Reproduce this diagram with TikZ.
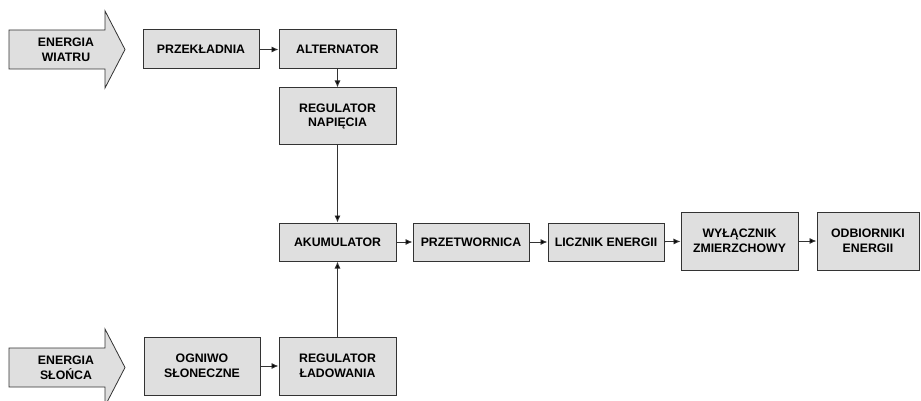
\documentclass[tikz,border=0pt]{standalone}
\usepackage{fontspec}
\setmainfont{Liberation Sans}
\usetikzlibrary{arrows.meta}
\begin{document}
\begin{tikzpicture}[x=1pt,y=-1pt,
  blk/.style={draw=black!80, line width=1pt, fill=gray!25, align=center,
    font=\fontsize{12.3}{14.5}\selectfont\bfseries, inner sep=0pt},
  big/.style={draw=black!80, line width=0.8pt, fill=gray!25},
  lbl/.style={align=center, font=\fontsize{12.3}{14.5}\selectfont\bfseries},
  con/.style={draw=black!80, line width=0.9pt, -{Latex[length=7pt,width=6pt,fill=black]}}]
\useasboundingbox (0,0) rectangle (921,401);
\begin{scope}
\clip (0,0) rectangle (921,401);
% wind arrow
\draw[big] (9,30) -- (105,30) -- (105,11) -- (125,49.5) -- (105,88) -- (105,69) -- (9,69) -- cycle;
\node[lbl] (wiatr) at (66,50) {ENERGIA\\WIATRU};
% sun arrow
\draw[big] (9,348) -- (105,348) -- (105,329) -- (125,367.5) -- (105,406) -- (105,387) -- (9,387) -- cycle;
\node[lbl] (slonce) at (66,368) {ENERGIA\\SŁOŃCA};
\end{scope}
% boxes
\node[blk, minimum width=116, minimum height=39] (prz) at (201,49.5) {PRZEKŁADNIA};
\node[blk, minimum width=117, minimum height=39] (alt) at (337.5,49.5) {ALTERNATOR};
\node[blk, minimum width=117, minimum height=57] (regn) at (337.5,116.5) {REGULATOR\\NAPIĘCIA};
\node[blk, minimum width=117, minimum height=38] (aku) at (337.5,242) {AKUMULATOR};
\node[blk, minimum width=116, minimum height=58] (ogn) at (202,366) {OGNIWO\\SŁONECZNE};
\node[blk, minimum width=117, minimum height=58] (regl) at (337.5,366) {REGULATOR\\ŁADOWANIA};
\node[blk, minimum width=116, minimum height=38] (prze) at (471,242) {PRZETWORNICA};
\node[blk, minimum width=116, minimum height=38] (licz) at (606,242) {LICZNIK ENERGII};
\node[blk, minimum width=117, minimum height=58] (wyl) at (739.5,241) {WYŁĄCZNIK\\ZMIERZCHOWY};
\node[blk, minimum width=102, minimum height=58] (odb) at (868,241) {ODBIORNIKI\\ENERGII};
% connectors
\draw[con] (prz) -- (alt);
\draw[con] (alt) -- (regn);
\draw[con] (regn) -- (aku);
\draw[con] (regl) -- (aku);
\draw[con] (ogn) -- (regl);
\draw[con] (aku) -- (prze);
\draw[con] (prze) -- (licz);
\draw[con] (licz) -- (wyl);
\draw[con] (wyl) -- (odb);
\end{tikzpicture}
\end{document}
